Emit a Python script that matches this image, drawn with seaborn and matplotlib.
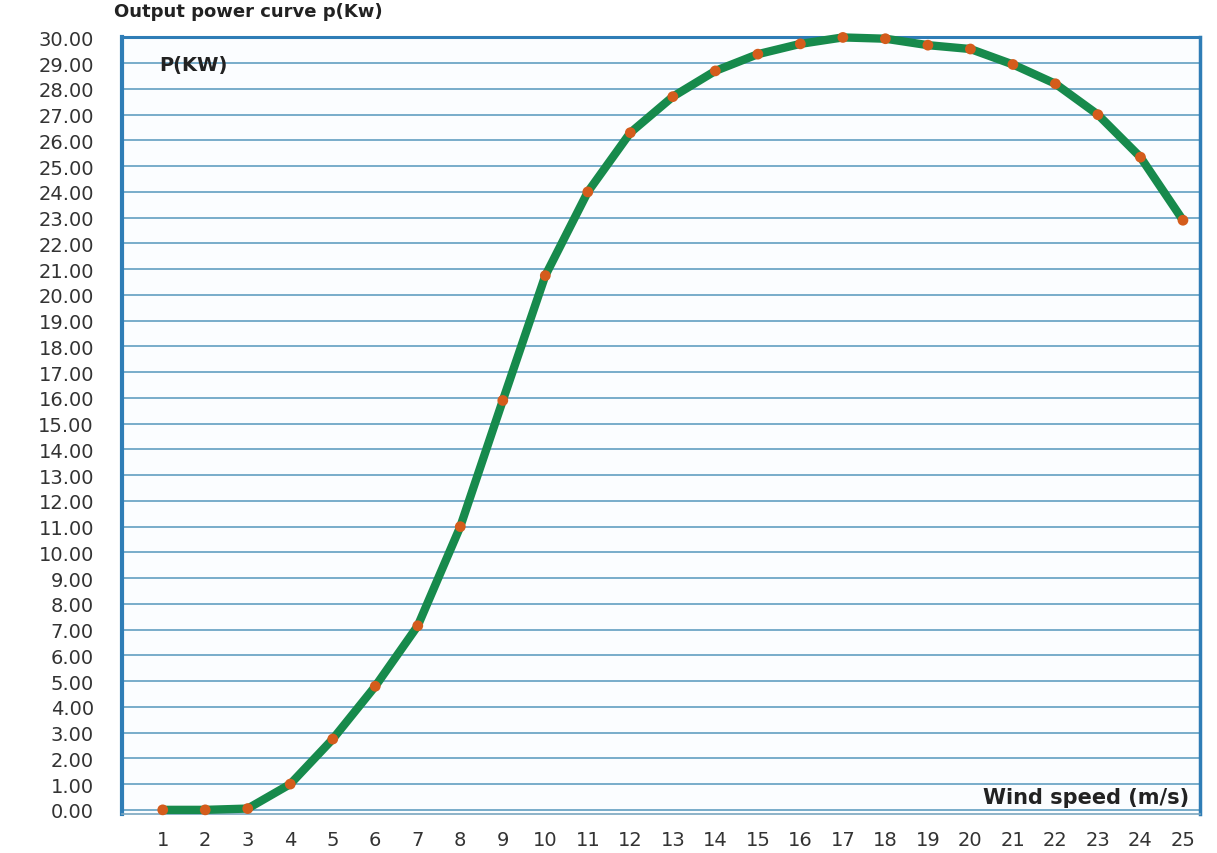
import matplotlib
matplotlib.use("Agg")
import matplotlib.pyplot as plt
import seaborn as sns
import pandas as pd

# Wind speed (m/s) and output power (kW)
wind_speed = list(range(1, 26))
power_kw = [
    0.0, 0.0, 0.05, 1.0, 2.75, 4.8, 7.15, 11.0, 15.9, 20.75,
    24.0, 26.3, 27.7, 28.7, 29.35, 29.75, 30.0, 29.95, 29.7, 29.55,
    28.95, 28.2, 27.0, 25.35, 22.9,
]
y_ticks = list(range(0, 31))

df = pd.DataFrame({"Wind speed": wind_speed, "Power": power_kw})

sns.set_style("white")
fig = plt.figure(figsize=(12.17, 8.54), dpi=100)
ax = fig.add_axes([0.100, 0.046, 0.886, 0.909])
ax.set_facecolor("#fbfdff")

# curve + markers
sns.lineplot(data=df, x="Wind speed", y="Power", ax=ax, color="#178a4c",
             linewidth=6, zorder=3, clip_on=False)
sns.scatterplot(data=df, x="Wind speed", y="Power", ax=ax, color="#d45c1c",
                s=60, marker="o", edgecolor="none", zorder=4, clip_on=False)

ax.set_xlim(0.035, 25.4)
ax.set_ylim(-0.15, 30.0)

ax.set_yticks(y_ticks)
ax.set_yticklabels([f"{v:.2f}" for v in y_ticks])
ax.set_xticks(wind_speed)
ax.set_xticklabels([str(v) for v in wind_speed])

ax.grid(axis="y", color="#6ea6c6", linewidth=1.3)
ax.grid(axis="x", visible=False)
ax.set_axisbelow(True)

ax.tick_params(axis="y", length=0, pad=20, labelsize=14, labelcolor="#333333")
ax.tick_params(axis="x", length=0, pad=12, labelsize=14, labelcolor="#333333")

for side in ["left", "top", "right"]:
    ax.spines[side].set_color("#2f7db6")
ax.spines["left"].set_linewidth(3)
ax.spines["top"].set_linewidth(2.2)
ax.spines["right"].set_linewidth(2.5)
ax.spines["bottom"].set_color("#7aa6bf")
ax.spines["bottom"].set_linewidth(1.2)

ax.set_xlabel("")
ax.set_ylabel("")

fig.text(0.094, 0.986, "Output power curve p(Kw)", fontsize=13,
         fontweight="bold", color="#222222", ha="left", va="center")
ax.text(0.035, 0.965, "P(KW)", transform=ax.transAxes, fontsize=14,
        fontweight="bold", color="#222222", ha="left", va="center")
ax.text(0.99, 0.022, "Wind speed (m/s)", transform=ax.transAxes, fontsize=15,
        fontweight="bold", color="#222222", ha="right", va="center")

fig.savefig("out.png", dpi=100, facecolor="white")
